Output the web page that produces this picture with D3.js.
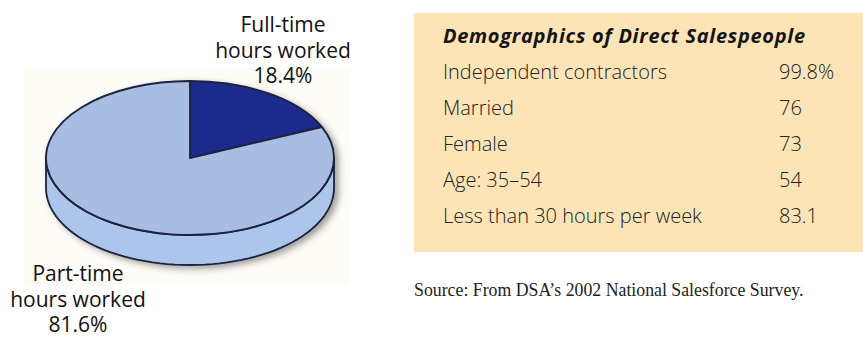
<!DOCTYPE html>
<html>
<head>
<meta charset="utf-8">
<script src="https://cdn.jsdelivr.net/npm/d3@7"></script>
<style>
  html, body { margin: 0; padding: 0; background: #ffffff; overflow: hidden; }
  svg { display: block; }
</style>
</head>
<body>
<script>
// Hours worked by direct salespeople (pie)
const sliceNames = ["Full-time", "Part-time"];
const sliceValues = [18.4, 81.6];
const sliceColors = ["#1d2b8d", "#a9bde2"];
const sideColors = ["#15206a", "#abc6ea"];

// Demographics table
const rowLabels = ["Independent contractors", "Married", "Female", "Age: 35\u201354", "Less than 30 hours per week"];
const rowValues = ["99.8%", "76", "73", "54", "83.1"];
const tableTitle = "Demographics of Direct Salespeople";
const sourceNote = "Source: From DSA\u2019s 2002 National Salesforce Survey.";

const W = 863, H = 339;
const svg = d3.select("body").append("svg").attr("width", W).attr("height", H);
const defs = svg.append("defs");
const shadow = defs.append("filter").attr("id", "pieShadow")
  .attr("x", "-10%").attr("y", "-10%").attr("width", "130%").attr("height", "140%");
shadow.append("feDropShadow").attr("dx", 4).attr("dy", 3).attr("stdDeviation", 3)
  .attr("flood-color", "#333").attr("flood-opacity", 0.45);

// faint backdrop behind the pie
svg.append("rect").attr("x", 24).attr("y", 68).attr("width", 326).attr("height", 218)
  .attr("fill", "#fdfcf6");

// ---- 3D pie ----
const cx = 190, cy = 158, rx = 144, ry = 77, depth = 30;
const pie = d3.pie().sort(null).value(d => d)(sliceValues);
const pt = (a, dy = 0) => [cx + rx * Math.sin(a), cy - ry * Math.cos(a) + dy];

const pieG = svg.append("g").attr("filter", "url(#pieShadow)");

// side wall: only the front half (angles π/2 .. 3π/2) is visible
pie.forEach((p, i) => {
  const a0 = Math.max(p.startAngle, Math.PI / 2);
  const a1 = Math.min(p.endAngle, 3 * Math.PI / 2);
  if (a1 <= a0) return;
  const n = 60;
  const top = d3.range(n + 1).map(k => pt(a0 + (a1 - a0) * k / n));
  const bot = d3.range(n + 1).map(k => pt(a1 - (a1 - a0) * k / n, depth));
  pieG.append("path")
    .attr("d", d3.line()(top.concat(bot)) + "Z")
    .attr("fill", sideColors[i])
    .attr("stroke", "#1b2440").attr("stroke-width", 1.8).attr("stroke-linejoin", "round");
});

// top face: circular arcs squashed into an ellipse
const arc = d3.arc().innerRadius(0).outerRadius(rx);
const topG = pieG.append("g").attr("transform", `translate(${cx},${cy}) scale(1,${ry / rx})`);
topG.selectAll("path").data(pie).join("path")
  .attr("d", arc)
  .attr("fill", (d, i) => sliceColors[i])
  .attr("stroke", "#1b2440").attr("stroke-width", 1.9)
  .attr("vector-effect", "non-scaling-stroke")
  .attr("stroke-linejoin", "round");

// pie labels
const labelFont = "'Open Sans', 'Noto Sans', sans-serif";
function multiLabel(x, y, lines) {
  const t = svg.append("text").attr("x", x).attr("y", y).attr("text-anchor", "middle")
    .attr("font-family", labelFont).attr("font-size", 21).attr("fill", "#111");
  lines.forEach((s, k) => t.append("tspan").attr("x", x).attr("dy", k ? 25.5 : 0).text(s));
}
multiLabel(283, 32, [sliceNames[0], "hours worked", sliceValues[0].toFixed(1) + "%"]);
multiLabel(78, 281, [sliceNames[1], "hours worked", sliceValues[1].toFixed(1) + "%"]);

// ---- demographics table ----
const tx = 414, ty = 13, tw = 449, th = 239;
svg.append("rect").attr("x", tx).attr("y", ty).attr("width", tw).attr("height", th).attr("fill", "#fde4b6");
svg.append("text").attr("x", 443).attr("y", 43)
  .attr("font-family", labelFont).attr("font-style", "italic").attr("font-weight", 700)
  .attr("font-size", 20).attr("letter-spacing", 0.7).attr("fill", "#151515").text(tableTitle);

const rowY = d3.scaleBand().domain(rowLabels).range([55, 235]);
const rows = svg.append("g").selectAll("g").data(rowLabels).join("g")
  .attr("transform", d => `translate(0,${rowY(d) + rowY.bandwidth() / 2 + 6})`);
rows.append("text").attr("x", 443).text(d => d);
rows.append("text").attr("x", 779).text((d, i) => rowValues[i]);
rows.selectAll("text").attr("font-family", labelFont).attr("font-size", 20)
  .attr("font-weight", 300).attr("fill", "#222");

// source note
svg.append("text").attr("x", 414).attr("y", 296)
  .attr("font-family", "'Liberation Serif', 'Times New Roman', serif")
  .attr("font-size", 17.8).attr("fill", "#222").text(sourceNote);
</script>
</body>
</html>
